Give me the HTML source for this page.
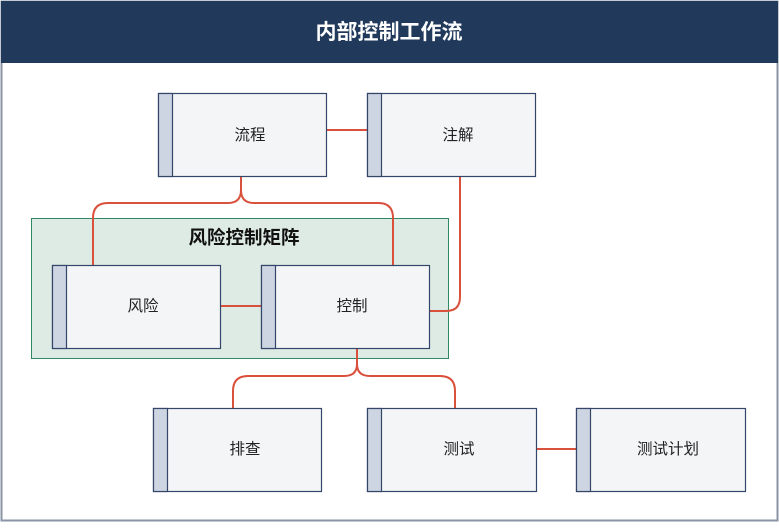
<!DOCTYPE html>
<html><head><meta charset="utf-8"><style>
body{margin:0;width:779px;height:523px;background:#fff;font-family:"Liberation Sans","Noto Sans CJK SC",sans-serif;overflow:hidden}
</style></head><body>
<svg width="779" height="523" xmlns="http://www.w3.org/2000/svg" font-family="Liberation Sans, Noto Sans CJK SC, sans-serif">
<rect x="1.5" y="1.5" width="776" height="519" fill="#fff" stroke="#8a94a6" stroke-width="2"/>
<rect x="1" y="1" width="777" height="62" fill="#213a5c"/>
<text x="389" y="39" text-anchor="middle" font-size="21" font-weight="bold" fill="#fff">内部控制工作流</text>
<rect x="31.5" y="218.5" width="417" height="140" fill="#deebe5" stroke="#2e8a63"/>
<text x="244" y="244" text-anchor="middle" font-size="18.5" font-weight="bold" fill="#111">风险控制矩阵</text>
<g fill="none" stroke="#d9513c" stroke-width="2">
<path d="M326 130H367"/>
<path d="M241 176V190Q241 203 228 203H108Q93 203 93 218V265"/>
<path d="M241 190Q241 203 254 203H378Q393 203 393 218V265"/>
<path d="M460 176V297Q460 311 446 311H429"/>
<path d="M220 306H261"/>
<path d="M357 348V364Q357 376 344 376H248Q233 376 233 391V408"/>
<path d="M357 364Q357 376 370 376H440Q455 376 455 391V408"/>
<path d="M536 449H576"/>
</g>
<g stroke="#34476a" stroke-width="1.2">
<g transform="translate(158,93)"><rect x=".5" y=".5" width="168" height="83" fill="#f4f5f7"/><rect x=".5" y=".5" width="14" height="83" fill="#cdd5e3"/></g>
<g transform="translate(367,93)"><rect x=".5" y=".5" width="168" height="83" fill="#f4f5f7"/><rect x=".5" y=".5" width="14" height="83" fill="#cdd5e3"/></g>
<g transform="translate(52,265)"><rect x=".5" y=".5" width="168" height="83" fill="#f4f5f7"/><rect x=".5" y=".5" width="14" height="83" fill="#cdd5e3"/></g>
<g transform="translate(261,265)"><rect x=".5" y=".5" width="168" height="83" fill="#f4f5f7"/><rect x=".5" y=".5" width="14" height="83" fill="#cdd5e3"/></g>
<g transform="translate(153,408)"><rect x=".5" y=".5" width="168" height="83" fill="#f4f5f7"/><rect x=".5" y=".5" width="14" height="83" fill="#cdd5e3"/></g>
<g transform="translate(367,408)"><rect x=".5" y=".5" width="169" height="83" fill="#f4f5f7"/><rect x=".5" y=".5" width="14" height="83" fill="#cdd5e3"/></g>
<g transform="translate(576,408)"><rect x=".5" y=".5" width="169" height="83" fill="#f4f5f7"/><rect x=".5" y=".5" width="14" height="83" fill="#cdd5e3"/></g>
</g>
<g font-size="15.5" fill="#222" text-anchor="middle">
<text x="250" y="140">流程</text>
<text x="458" y="140">注解</text>
<text x="143" y="311">风险</text>
<text x="352" y="311">控制</text>
<text x="245" y="454">排查</text>
<text x="459" y="454">测试</text>
<text x="668" y="454">测试计划</text>
</g>
</svg>
</body></html>
